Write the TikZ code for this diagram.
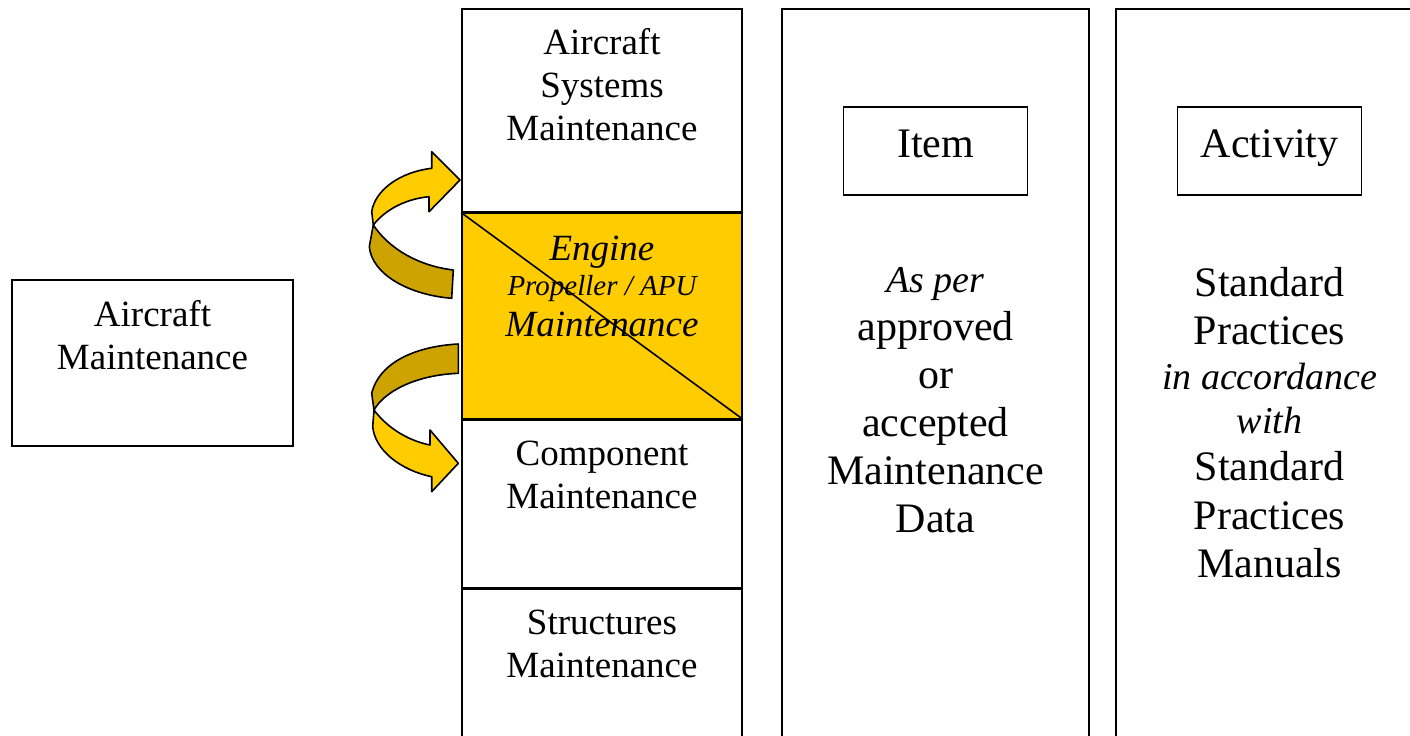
\documentclass[tikz,border=0pt]{standalone}
\usepackage{fontspec}
\setmainfont{Liberation Serif}
\usetikzlibrary{positioning}
\definecolor{gold}{RGB}{255,204,0}
\definecolor{darkgold}{RGB}{204,163,0}

\begin{document}
\begin{tikzpicture}[x=0.5pt, y=-0.5pt,
  mainbox/.style={draw, line width=0.8pt, minimum width=140.5pt,
    minimum height=83pt, inner sep=0pt},
  secbox/.style={draw, line width=0.8pt, minimum width=140pt, inner sep=0pt},
  colbox/.style={draw, line width=0.8pt, minimum width=153.5pt,
    minimum height=400pt, inner sep=0pt},
  headbox/.style={draw, line width=0.8pt, minimum width=92pt, minimum height=44pt,
    inner sep=0pt, text height=15pt, text depth=8pt, font=\fontsize{21}{24}\selectfont},
  sectxt/.style={align=center, inner sep=0pt, anchor=base,
    font=\fontsize{18.5}{21.5}\selectfont},
  coltxt/.style={align=center, inner sep=0pt, anchor=base,
    font=\fontsize{21}{24}\selectfont},
  ribbon/.style={draw, line width=0.8pt, line join=round}
]
\clip (0,0) rectangle (1410,735);

% left box
\node[mainbox] (acm) at (152.5,363) {};
\node[sectxt] (acmtxt) at ([yshift=-45pt]acm.north) {Aircraft\\Maintenance};

% maintenance sections
\node[secbox, minimum height=101.5pt, anchor=north] (sys) at (602,8) {};
\node[secbox, minimum height=102.5pt, fill=gold, below=0pt of sys] (eng) {};
\node[secbox, minimum height=84pt, below=0pt of eng] (comp) {};
\node[secbox, minimum height=90pt, below=0pt of comp] (struct) {};
\draw[line width=0.8pt] (eng.north west) -- (eng.south east);

\node[sectxt] (systxt) at ([yshift=-66pt]sys.north) {Aircraft\\Systems\\Maintenance};
\node[sectxt, font=\fontsize{18.5}{20}\selectfont\itshape] (engtxt) at ([yshift=-62pt]eng.north)
  {Engine\\[-2.5pt]{\fontsize{14.5}{17}\selectfont Propeller / APU}\\[0.5pt]Maintenance};
\node[sectxt] (comptxt) at ([yshift=-44.5pt]comp.north) {Component\\Maintenance};
\node[sectxt] (structtxt) at ([yshift=-44.5pt]struct.north) {Structures\\Maintenance};

% item and activity columns
\node[colbox, anchor=north] (itemcol) at (935.5,8) {};
\node[headbox, below=49pt of itemcol.north] (itemhd) {Item};
\node[coltxt] (itemtxt) at ([yshift=-262.25pt]itemcol.north)
  {{\fontsize{19}{24}\selectfont\itshape As per}\\approved\\or\\accepted\\Maintenance\\Data};

\node[colbox, anchor=north] (actcol) at (1269.5,8) {};
\node[headbox, below=49pt of actcol.north] (acthd) {Activity};
\node[coltxt] (acttxt) at ([yshift=-284.75pt]actcol.north)
  {Standard\\Practices\\[-1.5pt]{\fontsize{19}{24}\selectfont\itshape in accordance}\\[-2pt]%
   {\fontsize{19}{24}\selectfont\itshape with}\\[-0.5pt]Standard\\[0.5pt]Practices\\Manuals};

% curved arrows
\draw[ribbon, fill=darkgold] (373.3,225) .. controls (390,250) and (420,266) .. (453.3,270)
  -- (451.7,298.3) .. controls (410,295) and (372,275) .. (369.3,246.7) -- cycle;
\draw[ribbon, fill=gold] (431.7,168.3) -- (431.7,151.7) -- (460,180) -- (429,211.7)
  -- (429,196.7) .. controls (405,199) and (385,210) .. (373.3,225)
  -- (371.7,211.7) .. controls (375,190) and (400,172) .. (431.7,168.3) -- cycle;

\draw[ribbon, fill=darkgold] (458.3,344) .. controls (420,346) and (380,360) .. (371.7,393.3)
  -- (374,410) .. controls (384,392) and (415,375) .. (458.3,373.3) -- cycle;
\draw[ribbon, fill=gold] (374,410) .. controls (385,425) and (405,440) .. (430,445)
  -- (430,430) -- (458.3,463.3) -- (431.7,491.7) -- (431.7,476.7)
  .. controls (400,470) and (375,450) .. (372.7,426.7) -- cycle;
\end{tikzpicture}
\end{document}
